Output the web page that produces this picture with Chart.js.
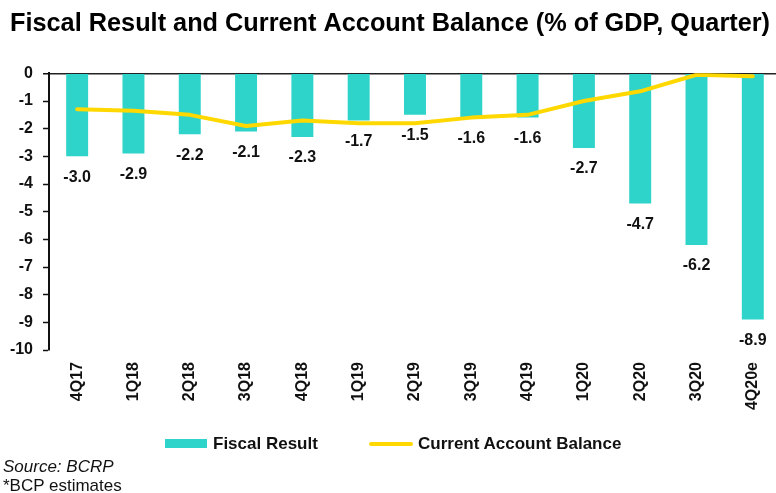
<!DOCTYPE html>
<html>
<head>
<meta charset="utf-8">
<script src="https://cdn.jsdelivr.net/npm/chart.js@4/dist/chart.umd.min.js"></script>
<style>
  html, body { margin: 0; padding: 0; background: #fff; overflow: hidden; }
  #wrap { position: relative; width: 776px; height: 493px; overflow: hidden; font-family: "Liberation Sans", Arial, sans-serif; }
  #chart { position: absolute; left: 0; top: 0; }
  .leg { position: absolute; top: 432px; height: 24px; line-height: 24px; font-weight: bold; font-size: 17px; color: #111; white-space: nowrap; }
  .leg i { position: absolute; display: block; }
  .note { position: absolute; left: 3px; font-size: 17px; color: #111; white-space: nowrap; line-height: 20px; }
</style>
</head>
<body>
<div id="wrap">
  <canvas id="chart" width="784" height="493"></canvas>
  <div class="leg" id="leg0" style="left:165px;"></div>
  <div class="leg" id="leg1" style="left:369px;"></div>
  <div class="note" style="top:457px; font-style:italic;">Source: BCRP</div>
  <div class="note" style="top:476px;">*BCP estimates</div>
</div>
<script>
// Quarterly figures, % of GDP
const quarters = ['4Q17', '1Q18', '2Q18', '3Q18', '4Q18', '1Q19', '2Q19', '3Q19', '4Q19', '1Q20', '2Q20', '3Q20', '4Q20e'];
const fiscalResult = [-3.0, -2.9, -2.2, -2.1, -2.3, -1.7, -1.5, -1.6, -1.6, -2.7, -4.7, -6.2, -8.9];
const currentAccount = [-1.3, -1.35, -1.5, -1.9, -1.7, -1.8, -1.8, -1.6, -1.5, -1.0, -0.65, -0.05, -0.1];
const yTicks = [0, -1, -2, -3, -4, -5, -6, -7, -8, -9, -10];

const FONT = '"Liberation Sans", Arial, sans-serif';
const TEAL = '#2ED3CA';
const YELLOW = '#FFD800';

// Value labels under each fiscal bar
const barValueLabels = {
  id: 'barValueLabels',
  afterDatasetsDraw(chart) {
    const meta = chart.getDatasetMeta(0);
    const ctx = chart.ctx;
    ctx.save();
    ctx.font = 'bold 16px ' + FONT;
    ctx.fillStyle = '#111';
    ctx.textAlign = 'center';
    ctx.textBaseline = 'middle';
    meta.data.forEach((bar, i) => {
      ctx.fillText(fiscalResult[i].toFixed(1), bar.x, bar.y + 21);
    });
    ctx.restore();
  }
};

const chart = new Chart(document.getElementById('chart'), {
  data: {
    labels: quarters,
    datasets: [
      {
        type: 'bar',
        label: 'Fiscal Result',
        data: fiscalResult,
        backgroundColor: TEAL,
        borderWidth: 0,
        categoryPercentage: 1,
        barPercentage: 0.39,
        order: 2
      },
      {
        type: 'line',
        label: 'Current Account Balance',
        data: currentAccount,
        borderColor: YELLOW,
        backgroundColor: YELLOW,
        borderWidth: 4,
        pointRadius: 0,
        tension: 0,
        borderCapStyle: 'round',
        borderJoinStyle: 'round',
        order: 1
      }
    ]
  },
  options: {
    responsive: false,
    animation: false,
    layout: { padding: { left: 10, right: 0, top: 0, bottom: 83 } },
    plugins: {
      legend: { display: false },
      tooltip: { enabled: false },
      title: {
        display: true,
        text: 'Fiscal Result and Current Account Balance (% of GDP, Quarter)',
        align: 'start',
        color: '#000',
        font: { family: FONT, size: 25.3, weight: 'bold' },
        padding: { top: 9, bottom: 34 }
      }
    },
    scales: {
      x: {
        position: 'bottom',
        grid: { display: false, drawTicks: false },
        border: { display: false },
        ticks: {
          color: '#111',
          font: { family: FONT, size: 16, weight: 'bold' },
          minRotation: 90,
          maxRotation: 90,
          padding: 12,
          autoSkip: false
        },
        afterFit(scale) { scale.height = 60; }
      },
      y: {
        min: -10,
        max: 0,
        afterBuildTicks(scale) { scale.ticks = yTicks.map(v => ({ value: v })); },
        ticks: {
          color: '#111',
          font: { family: FONT, size: 16, weight: 'bold' },
          padding: 10,
          callback: v => String(v)
        },
        grid: {
          drawOnChartArea: true,
          color: c => (c.tick && c.tick.value === 0) ? '#222' : 'rgba(0,0,0,0)',
          lineWidth: c => (c.tick && c.tick.value === 0) ? 1.5 : 1,
          tickColor: '#111',
          tickLength: 6,
          tickWidth: 1.5
        },
        border: { display: true, color: '#111', width: 2 },
        afterFit(scale) { scale.width = 39; }
      }
    }
  },
  plugins: [barValueLabels]
});

// Legend built from the datasets
chart.data.datasets.forEach((ds, i) => {
  const el = document.getElementById('leg' + i);
  const sw = document.createElement('i');
  if (ds.type === 'bar') {
    sw.style.cssText = 'left:0;top:7px;width:42px;height:9px;background:' + ds.backgroundColor;
    el.style.paddingLeft = '48px';
  } else {
    sw.style.cssText = 'left:0;top:10px;width:44px;height:4px;border-radius:2px;background:' + ds.borderColor;
    el.style.paddingLeft = '49px';
  }
  el.appendChild(sw);
  el.appendChild(document.createTextNode(ds.label));
});
</script>
</body>
</html>
